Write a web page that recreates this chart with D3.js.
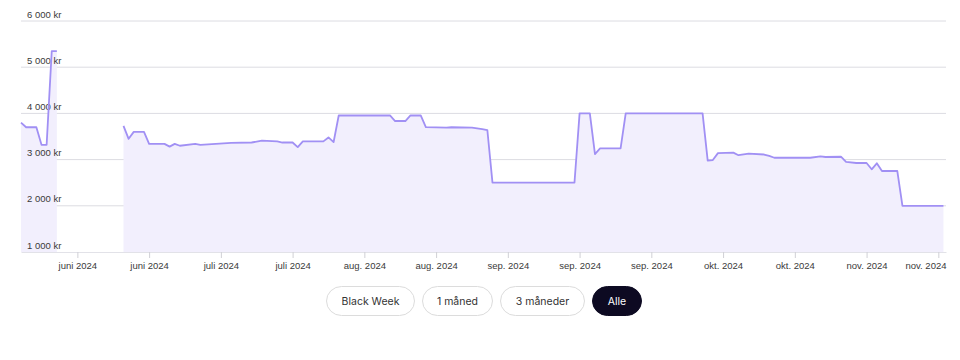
<!DOCTYPE html>
<html><head><meta charset="utf-8">
<script src="https://cdn.jsdelivr.net/npm/d3@7"></script>
<style>
body{margin:0;background:#fff;}
svg text{font-family:"Liberation Sans",Arial,sans-serif;}
</style></head>
<body><svg id="c" width="960" height="360"></svg>
<script>
// ---- data ----
const dates = [
 "2024-05-29","2024-05-30","2024-06-01","2024-06-02","2024-06-03","2024-06-04","2024-06-05",
 "2024-06-06",
 "2024-06-18","2024-06-19","2024-06-20","2024-06-22","2024-06-23","2024-06-26","2024-06-27","2024-06-28","2024-06-29",
 "2024-07-02","2024-07-03","2024-07-09","2024-07-13","2024-07-15","2024-07-18","2024-07-19","2024-07-21","2024-07-22",
 "2024-07-23","2024-07-27","2024-07-28","2024-07-29","2024-07-30","2024-08-09","2024-08-10","2024-08-12","2024-08-13",
 "2024-08-15","2024-08-16","2024-08-20","2024-08-21","2024-08-25","2024-08-27","2024-08-28","2024-08-29","2024-09-14",
 "2024-09-15","2024-09-17","2024-09-18","2024-09-19","2024-09-23","2024-09-24","2024-10-09","2024-10-10","2024-10-11",
 "2024-10-12","2024-10-15","2024-10-16","2024-10-18","2024-10-21","2024-10-22","2024-10-23","2024-10-30","2024-11-01",
 "2024-11-02","2024-11-05","2024-11-06","2024-11-08","2024-11-10","2024-11-11","2024-11-12","2024-11-13","2024-11-16",
 "2024-11-17","2024-11-25"
];
const prices = [
 3800,3700,3700,3320,3320,5350,5350,
 null,
 3730,3450,3600,3600,3340,3340,3280,3340,3300,
 3340,3320,3360,3370,3410,3395,3370,3370,3270,
 3395,3395,3480,3380,3955,3955,3835,3835,3955,
 3955,3705,3690,3700,3690,3660,3640,2500,2500,
 4000,4000,3120,3245,3245,4000,4000,2976,2990,
 3140,3150,3095,3130,3110,3080,3040,3040,3070,
 3056,3062,2950,2926,2926,2790,2920,2753,2753,
 2000,2000
];
const yTicks = [1000,2000,3000,4000,5000,6000];
const yTickLabels = ["1 000 kr","2 000 kr","3 000 kr","4 000 kr","5 000 kr","6 000 kr"];
const xTickDates = ["2024-06-09","2024-06-23","2024-07-07","2024-07-21","2024-08-04","2024-08-18",
 "2024-09-01","2024-09-15","2024-09-29","2024-10-13","2024-10-27","2024-11-10","2024-11-24"];
const xTickLabels = ["juni 2024","juni 2024","juli 2024","juli 2024","aug. 2024","aug. 2024",
 "sep. 2024","sep. 2024","sep. 2024","okt. 2024","okt. 2024","nov. 2024","nov. 2024"];
const buttons = ["Black Week","1 måned","3 måneder","Alle"];
const activeButton = "Alle";

// ---- layout ----
const L = 21, R = 946, T = 21, B = 252;
const parse = d3.timeParse("%Y-%m-%d");
const data = dates.map((d,i)=>({d:parse(d), v:prices[i]}));

const x = d3.scaleTime().domain([new Date(2024,4,29), new Date(2024,10,25,12)]).range([L,R]);
const y = d3.scaleLinear().domain([1000,6000]).range([B,T]);

const svg = d3.select("#c");

// gridlines
svg.append("g").selectAll("line").data(yTicks.filter(t=>t>1000)).join("line")
 .attr("x1",L).attr("x2",R).attr("y1",d=>y(d)).attr("y2",d=>y(d))
 .attr("stroke","#dcdce2").attr("stroke-width",1);

// area
const area = d3.area().defined(d=>d.v!=null).x(d=>x(d.d)).y0(y(1000)).y1(d=>y(d.v));
svg.append("path").datum(data).attr("d",area).attr("fill","#f2effd");

// y labels
svg.append("g").selectAll("text").data(yTicks).join("text")
 .attr("x",L+6).attr("y",d=>y(d)-3.5)
 .attr("font-size",9.5).attr("fill","#3a3a3a")
 .text((d,i)=>yTickLabels[i]);

// x axis
const xAxis = d3.axisBottom(x).tickValues(xTickDates.map(parse))
 .tickFormat((d,i)=>xTickLabels[i]).tickSize(6).tickPadding(4).tickSizeOuter(0);
const gx = svg.append("g").attr("transform",`translate(0,${B})`).call(xAxis);
gx.select(".domain").attr("stroke","#e2e2e8");
gx.selectAll(".tick line").attr("stroke","#d0d0d6");
gx.selectAll(".tick text").attr("font-size",9.5).attr("fill","#3a3a3a")
 .attr("font-family","Liberation Sans, Arial, sans-serif");
gx.selectAll(".tick text").filter((d,i,n)=>i===n.length-1)
 .attr("text-anchor","end").attr("x",function(d){return R - x(d);});

// line
const line = d3.line().defined(d=>d.v!=null).x(d=>x(d.d)).y(d=>y(d.v));
svg.append("path").datum(data).attr("d",line).attr("fill","none")
 .attr("stroke","#a190f4").attr("stroke-width",1.8).attr("stroke-linejoin","round");

// buttons
const btnW = [89,71,85,50], btnGap = 7, btnX0 = 326, btnY = 286, btnH = 30;
let bx = btnX0;
buttons.forEach((b,i)=>{
  const g = svg.append("g").attr("transform",`translate(${bx},${btnY})`);
  const act = b===activeButton;
  g.append("rect").attr("x",0.5).attr("y",0.5).attr("width",btnW[i]-1).attr("height",btnH-1)
   .attr("rx",btnH/2).attr("fill",act?"#0d0a22":"#fff").attr("stroke",act?"#0d0a22":"#dcdcdc");
  g.append("text").attr("x",btnW[i]/2).attr("y",btnH/2+4).attr("text-anchor","middle")
   .attr("font-size",10.5).attr("fill",act?"#fff":"#333").style("font-family","Inter, sans-serif")
   .text(b);
  bx += btnW[i]+btnGap;
});
</script>
</body></html>
